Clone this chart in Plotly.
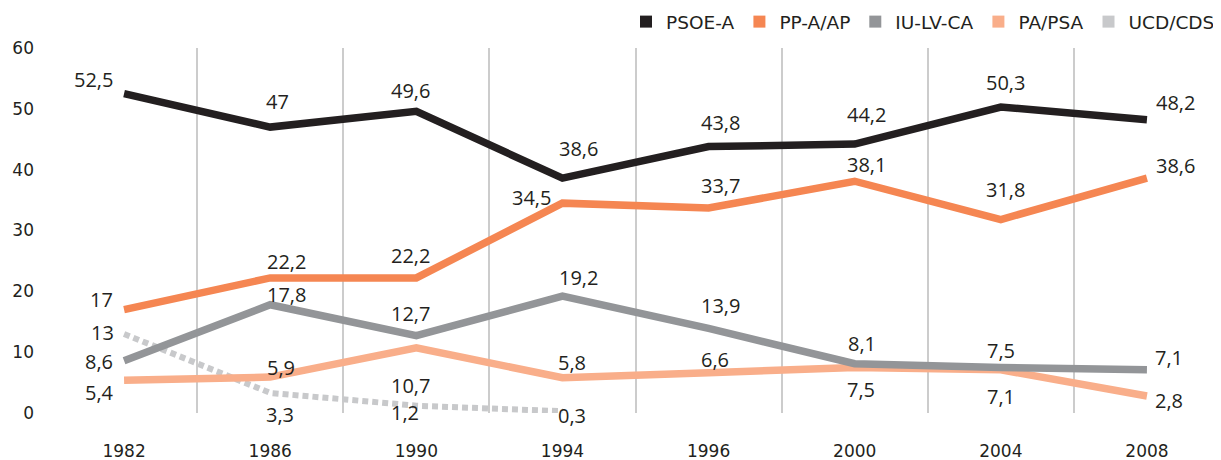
import plotly.graph_objects as go

years = ["1982", "1986", "1990", "1994", "1996", "2000", "2004", "2008"]
psoe = [52.5, 47, 49.6, 38.6, 43.8, 44.2, 50.3, 48.2]
pp = [17, 22.2, 22.2, 34.5, 33.7, 38.1, 31.8, 38.6]
iu = [8.6, 17.8, 12.7, 19.2, 13.9, 8.1, 7.5, 7.1]
pa = [5.4, 5.9, 10.7, 5.8, 6.6, 7.5, 7.1, 2.8]
ucd = [13, 3.3, 1.2, 0.3]
ucd_years = years[:4]

names = ["PSOE-A", "PP-A/AP", "IU-LV-CA", "PA/PSA", "UCD/CDS"]
colors = ["#231f20", "#f58652", "#939598", "#f9ae8a", "#c8c9cb"]

# label offsets (pixels, dx right, dy up) -- styling only
off_psoe = [(-31, 14), (7, 26), (-6, 21), (16, 30), (12, 24), (12, 30), (5, 25), (29, 17)]
off_pp = [(-23, 10), (16, 16), (-6, 22), (-31, 6), (12, 22), (12, 17), (5, 30), (29, 13)]
off_iu = [(-25, -1), (16, 10), (-6, 22), (16, 19), (12, 23), (7, 20), (0, 17), (22, 12)]
off_pa = [(-25, -12), (11, 10), (-6, -38), (10, 15), (6, 13), (6, -22), (0, -27), (22, -5)]
off_ucd = [(-22, 1), (10, -22), (-11, -7), (10, -4)]


def fmt(v):
    return ("%g" % v).replace(".", ",")


fig = go.Figure()

series = [
    (ucd_years, ucd, 4, off_ucd, dict(dash="6px,4px", width=6)),
    (years, pa, 3, off_pa, dict(width=7.5)),
    (years, iu, 2, off_iu, dict(width=7.5)),
    (years, pp, 1, off_pp, dict(width=7.5)),
    (years, psoe, 0, off_psoe, dict(width=7.5)),
]

annotations = []
for xs, ys, idx, offs, line in series:
    fig.add_trace(go.Scatter(
        x=xs, y=ys, mode="lines", name=names[idx],
        line=dict(color=colors[idx], **line),
        showlegend=False, hoverinfo="skip",
    ))
    for x, y, (dx, dy) in zip(xs, ys, offs):
        annotations.append(dict(
            x=years.index(x), y=y, xref="x", yref="y", text=fmt(y),
            showarrow=False, xanchor="center", yanchor="middle",
            xshift=dx, yshift=dy,
            font=dict(family="Open Sans", size=20, color="#231f20"),
        ))

for i, n in enumerate(names):
    fig.add_trace(go.Scatter(
        x=[None], y=[None], mode="markers", name=n,
        marker=dict(symbol="square", size=18, color=colors[i]),
        showlegend=True,
    ))

# the page body has an 8px margin: the figure is sized to end at the window edge
fig.update_layout(
    width=1213, height=452,
    margin=dict(l=43, r=1, t=40, b=47, autoexpand=False),
    paper_bgcolor="white", plot_bgcolor="white",
    annotations=annotations,
    legend=dict(
        orientation="h", x=1.0, xanchor="right", y=1.071, yanchor="middle",
        font=dict(family="DejaVu Sans", size=18.5, color="#231f20"),
        itemsizing="constant", itemwidth=30, traceorder="normal",
    ),
    xaxis=dict(
        type="category", categoryorder="array", categoryarray=years,
        range=[-0.5, 7.5], tickson="boundaries", showgrid=True,
        gridcolor="#cccccc", gridwidth=1.5, ticks="", showline=False,
        zeroline=False, ticklabelstandoff=26,
        tickfont=dict(family="DejaVu Sans", size=17, color="#231f20"),
    ),
    yaxis=dict(
        range=[0, 60], tickvals=[0, 10, 20, 30, 40, 50, 60],
        showgrid=False, zeroline=False, showline=False, ticks="",
        ticklabelstandoff=16,
        tickfont=dict(family="DejaVu Sans", size=17, color="#231f20"),
    ),
)

fig.write_html("out.html")
